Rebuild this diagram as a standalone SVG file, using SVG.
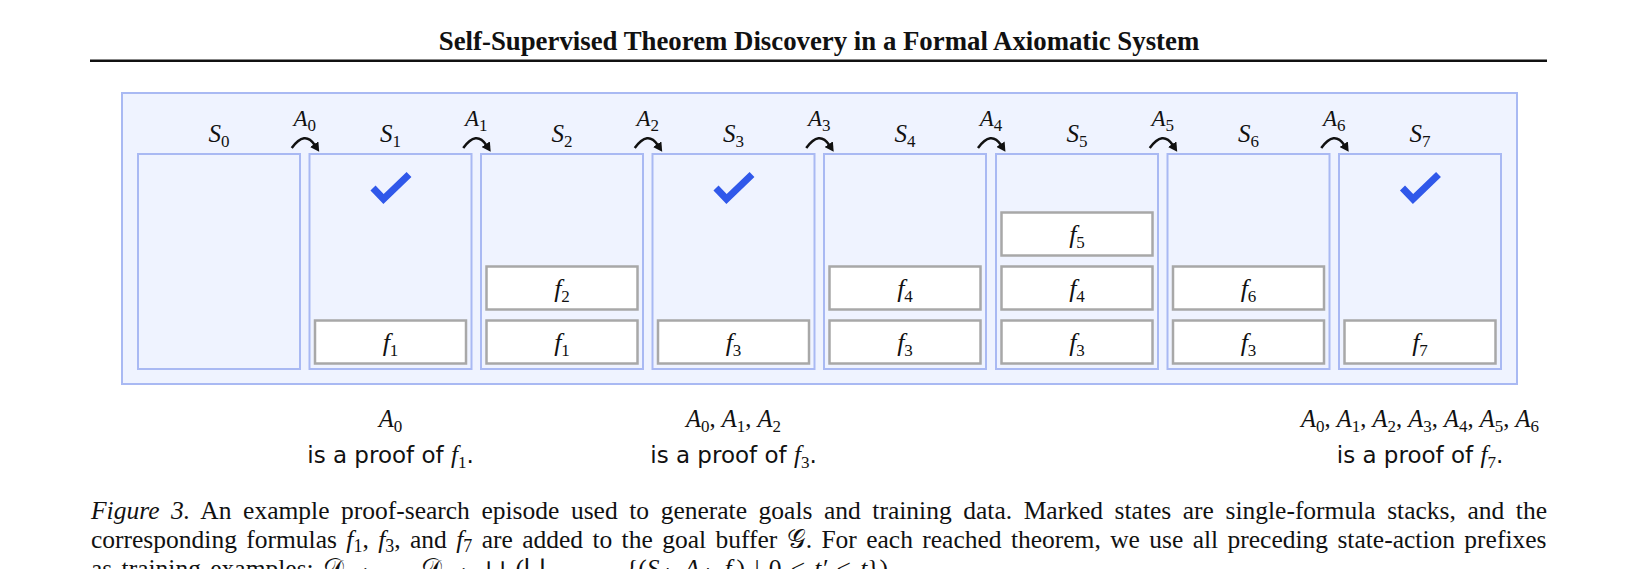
<svg xmlns="http://www.w3.org/2000/svg" width="1639" height="569" viewBox="0 0 1639 569">
<style>
.serif{font-family:"Liberation Serif","DejaVu Serif",serif;}
.it{font-family:"Liberation Serif","DejaVu Serif",serif;font-style:italic;}
.sans{font-family:"DejaVu Sans","Liberation Sans",sans-serif;}
.state{fill:#eff3ff;stroke:#a9b9f3;stroke-width:2;}
.formula{fill:#ffffff;stroke:#a8a8a8;stroke-width:2.5;}
.fl{font-family:"Liberation Serif","DejaVu Serif",serif;font-style:italic;font-size:26px;text-anchor:middle;fill:#111;}
.sl{font-family:"Liberation Serif","DejaVu Serif",serif;font-style:italic;font-size:25px;text-anchor:middle;fill:#111;}
.al{font-family:"Liberation Serif","DejaVu Serif",serif;font-style:italic;font-size:23px;text-anchor:middle;fill:#111;}
.ml{font-family:"Liberation Serif","DejaVu Serif",serif;font-style:italic;font-size:24.5px;text-anchor:middle;fill:#111;}
.sub{font-size:17px;font-style:normal;}
.check{fill:none;stroke:#3058ea;stroke-width:7;stroke-linecap:butt;stroke-linejoin:miter;}
.arc{fill:none;stroke:#111;stroke-width:2.5;marker-end:url(#ah);}
.cap{font-family:"Liberation Serif","DejaVu Serif",serif;font-size:25.5px;fill:#111;}
.proof{font-family:"DejaVu Sans","Liberation Sans",sans-serif;font-size:23px;text-anchor:middle;fill:#111;}
</style>
<defs>
<marker id="ah" markerWidth="10" markerHeight="10" refX="1" refY="5" orient="auto" markerUnits="userSpaceOnUse"><path d="M0,0 L9,5 L0,10 z" fill="#111"/></marker>
</defs>
<rect width="1639" height="569" fill="#ffffff"/>
<text class="serif" x="819" y="50" font-size="26.8" font-weight="bold" text-anchor="middle" fill="#111">Self-Supervised Theorem Discovery in a Formal Axiomatic System</text>
<rect x="90" y="59.5" width="1457" height="2.5" fill="#111"/>
<rect id="panel" x="122" y="93" width="1395" height="291" fill="#eff3ff" stroke="#a9b9f3" stroke-width="2"/>

<g id="S0">
<rect class="state" x="138" y="154" width="162" height="215"/>
<text class="sl" x="219" y="142">S<tspan class="sub" dy="5">0</tspan></text>
</g>
<g id="S1">
<rect class="state" x="309.5" y="154" width="162" height="215"/>
<text class="sl" x="390.5" y="142">S<tspan class="sub" dy="5">1</tspan></text>
<polyline class="check" points="373,188 383.5,199 409,174.5"/>
<rect class="formula" x="315" y="320.5" width="151" height="43"/>
<text class="fl" x="390.5" y="351">f<tspan class="sub" dy="5">1</tspan></text>
</g>
<g id="S2">
<rect class="state" x="481" y="154" width="162" height="215"/>
<text class="sl" x="562" y="142">S<tspan class="sub" dy="5">2</tspan></text>
<rect class="formula" x="486.5" y="320.5" width="151" height="43"/>
<text class="fl" x="562" y="351">f<tspan class="sub" dy="5">1</tspan></text>
<rect class="formula" x="486.5" y="266.5" width="151" height="43"/>
<text class="fl" x="562" y="297">f<tspan class="sub" dy="5">2</tspan></text>
</g>
<g id="S3">
<rect class="state" x="652.5" y="154" width="162" height="215"/>
<text class="sl" x="733.5" y="142">S<tspan class="sub" dy="5">3</tspan></text>
<polyline class="check" points="716,188 726.5,199 752,174.5"/>
<rect class="formula" x="658" y="320.5" width="151" height="43"/>
<text class="fl" x="733.5" y="351">f<tspan class="sub" dy="5">3</tspan></text>
</g>
<g id="S4">
<rect class="state" x="824" y="154" width="162" height="215"/>
<text class="sl" x="905" y="142">S<tspan class="sub" dy="5">4</tspan></text>
<rect class="formula" x="829.5" y="320.5" width="151" height="43"/>
<text class="fl" x="905" y="351">f<tspan class="sub" dy="5">3</tspan></text>
<rect class="formula" x="829.5" y="266.5" width="151" height="43"/>
<text class="fl" x="905" y="297">f<tspan class="sub" dy="5">4</tspan></text>
</g>
<g id="S5">
<rect class="state" x="996" y="154" width="162" height="215"/>
<text class="sl" x="1077" y="142">S<tspan class="sub" dy="5">5</tspan></text>
<rect class="formula" x="1001.5" y="320.5" width="151" height="43"/>
<text class="fl" x="1077" y="351">f<tspan class="sub" dy="5">3</tspan></text>
<rect class="formula" x="1001.5" y="266.5" width="151" height="43"/>
<text class="fl" x="1077" y="297">f<tspan class="sub" dy="5">4</tspan></text>
<rect class="formula" x="1001.5" y="212.5" width="151" height="43"/>
<text class="fl" x="1077" y="243">f<tspan class="sub" dy="5">5</tspan></text>
</g>
<g id="S6">
<rect class="state" x="1167.5" y="154" width="162" height="215"/>
<text class="sl" x="1248.5" y="142">S<tspan class="sub" dy="5">6</tspan></text>
<rect class="formula" x="1173" y="320.5" width="151" height="43"/>
<text class="fl" x="1248.5" y="351">f<tspan class="sub" dy="5">3</tspan></text>
<rect class="formula" x="1173" y="266.5" width="151" height="43"/>
<text class="fl" x="1248.5" y="297">f<tspan class="sub" dy="5">6</tspan></text>
</g>
<g id="S7">
<rect class="state" x="1339" y="154" width="162" height="215"/>
<text class="sl" x="1420" y="142">S<tspan class="sub" dy="5">7</tspan></text>
<polyline class="check" points="1402.5,188 1413,199 1438.5,174.5"/>
<rect class="formula" x="1344.5" y="320.5" width="151" height="43"/>
<text class="fl" x="1420" y="351">f<tspan class="sub" dy="5">7</tspan></text>
</g>

<g id="connectors">
<path class="arc" d="M291.75,148 Q304.75,130 314.75,145"/>
<path class="arc" d="M463.25,148 Q476.25,130 486.25,145"/>
<path class="arc" d="M634.75,148 Q647.75,130 657.75,145"/>
<path class="arc" d="M806.25,148 Q819.25,130 829.25,145"/>
<path class="arc" d="M978,148 Q991,130 1001,145"/>
<path class="arc" d="M1149.75,148 Q1162.75,130 1172.75,145"/>
<path class="arc" d="M1321.25,148 Q1334.25,130 1344.25,145"/>
<text class="al" x="304.75" y="126">A<tspan class="sub" dy="5">0</tspan></text>
<text class="al" x="476.25" y="126">A<tspan class="sub" dy="5">1</tspan></text>
<text class="al" x="647.75" y="126">A<tspan class="sub" dy="5">2</tspan></text>
<text class="al" x="819.25" y="126">A<tspan class="sub" dy="5">3</tspan></text>
<text class="al" x="991" y="126">A<tspan class="sub" dy="5">4</tspan></text>
<text class="al" x="1162.75" y="126">A<tspan class="sub" dy="5">5</tspan></text>
<text class="al" x="1334.25" y="126">A<tspan class="sub" dy="5">6</tspan></text>
</g>

<g id="proof1">
<text class="ml" x="390.5" y="427">A<tspan class="sub" dy="5">0</tspan></text>
<text class="proof" x="390.5" y="463">is a proof of <tspan class="it" font-size="25">f</tspan><tspan class="serif" font-size="17" dy="5">1</tspan><tspan dy="-5">.</tspan></text>
</g>
<g id="proof3">
<text class="ml" x="733.5" y="427">A<tspan class="sub" dy="5">0</tspan><tspan dy="-5" font-style="normal">, </tspan>A<tspan class="sub" dy="5">1</tspan><tspan dy="-5" font-style="normal">, </tspan>A<tspan class="sub" dy="5">2</tspan></text>
<text class="proof" x="733.5" y="463">is a proof of <tspan class="it" font-size="25">f</tspan><tspan class="serif" font-size="17" dy="5">3</tspan><tspan dy="-5">.</tspan></text>
</g>
<g id="proof7">
<text class="ml" x="1420" y="427">A<tspan class="sub" dy="5">0</tspan><tspan dy="-5" font-style="normal">, </tspan>A<tspan class="sub" dy="5">1</tspan><tspan dy="-5" font-style="normal">, </tspan>A<tspan class="sub" dy="5">2</tspan><tspan dy="-5" font-style="normal">, </tspan>A<tspan class="sub" dy="5">3</tspan><tspan dy="-5" font-style="normal">, </tspan>A<tspan class="sub" dy="5">4</tspan><tspan dy="-5" font-style="normal">, </tspan>A<tspan class="sub" dy="5">5</tspan><tspan dy="-5" font-style="normal">, </tspan>A<tspan class="sub" dy="5">6</tspan></text>
<text class="proof" x="1420" y="463">is a proof of <tspan class="it" font-size="25">f</tspan><tspan class="serif" font-size="17" dy="5">7</tspan><tspan dy="-5">.</tspan></text>
</g>

<g id="caption">
<text class="cap" x="91" y="519" word-spacing="5.2"><tspan font-style="italic">Figure 3.</tspan> An example proof-search episode used to generate goals and training data. Marked states are single-formula stacks, and the</text>
<text class="cap" x="91" y="548" word-spacing="3">corresponding formulas <tspan font-style="italic">f</tspan><tspan font-size="18" dy="4">1</tspan><tspan dy="-4">, </tspan><tspan font-style="italic">f</tspan><tspan font-size="18" dy="4">3</tspan><tspan dy="-4">, and </tspan><tspan font-style="italic">f</tspan><tspan font-size="18" dy="4">7</tspan><tspan dy="-4"> are added to the goal buffer </tspan><tspan class="sans">𝒢</tspan>. For each reached theorem, we use all preceding state-action prefixes</text>
<text class="cap" x="91" y="577" word-spacing="3">as training examples: <tspan class="sans">𝒟</tspan><tspan font-size="18" dy="4">train</tspan><tspan dy="-4"> ← </tspan><tspan class="sans">𝒟</tspan><tspan font-size="18" dy="4">train</tspan><tspan dy="-4"> ∪ (⋃</tspan><tspan font-size="18" font-style="italic" dy="6">t</tspan><tspan font-size="18" dy="0">∈{1,3,7}</tspan><tspan dy="-6"> {(</tspan><tspan font-style="italic">S</tspan><tspan font-size="18" font-style="italic" dy="4">t′</tspan><tspan dy="-4">, </tspan><tspan font-style="italic">A</tspan><tspan font-size="18" font-style="italic" dy="4">t′</tspan><tspan dy="-4">, </tspan><tspan font-style="italic">f</tspan><tspan font-size="18" font-style="italic" dy="4">t</tspan><tspan dy="-4">) | 0 ≤ </tspan><tspan font-style="italic">t′</tspan> &lt; <tspan font-style="italic">t</tspan>}).</text>
</g>
</svg>
